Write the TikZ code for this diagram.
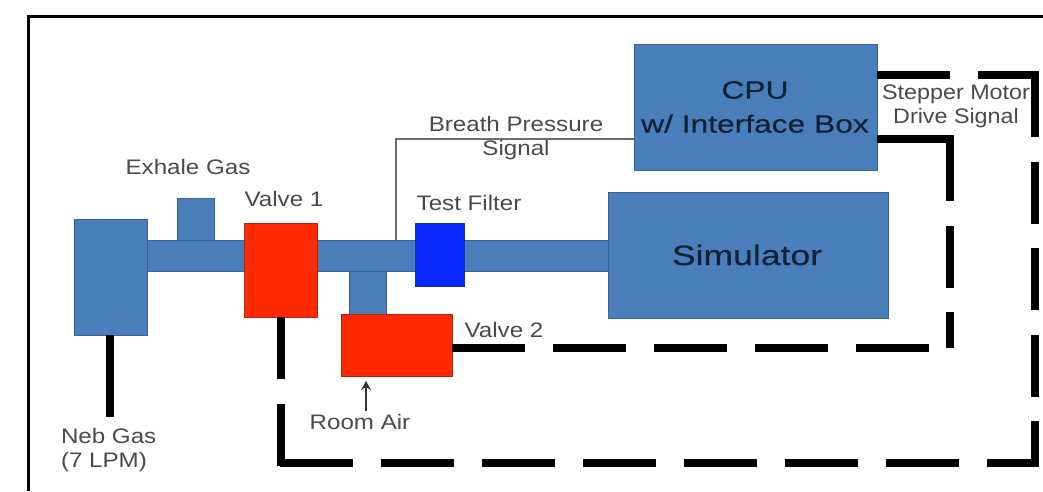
\documentclass[tikz,border=0pt]{standalone}
\usepackage{fontspec}
\setmainfont{Liberation Sans}
\newfontfamily\labfont[FakeStretch=1.15]{Liberation Sans}
\newfontfamily\stepfont[FakeStretch=1.11]{Liberation Sans}
\newfontfamily\bigfont[FakeStretch=1.27,FakeBold=0.3]{Liberation Sans}
\usetikzlibrary{arrows.meta}
\definecolor{pipeblue}{HTML}{4A7EBB}
\definecolor{pipeedge}{HTML}{3A6496}
\definecolor{valvered}{HTML}{FF2A00}
\definecolor{valveedge}{HTML}{A82A10}
\definecolor{filterblue}{HTML}{0A28FF}
\definecolor{filteredge}{HTML}{1A2F9A}
\definecolor{labelgray}{HTML}{4A4A4A}
\definecolor{boxtext}{HTML}{0F2238}
\tikzset{
  blk/.style={rectangle,inner sep=0pt,outer sep=0pt,line width=1pt},
  bluebox/.style={blk,draw=pipeedge,fill=pipeblue},
  redbox/.style={blk,draw=valveedge,fill=valvered},
  filterbox/.style={blk,draw=filteredge,fill=filterblue},
  sigline/.style={line width=8pt,draw=black},
  hdash/.style={sigline,dash pattern=on 73pt off 28pt},
  vdash/.style={sigline,dash pattern=on 62pt off 24.6pt},
  lab/.style={inner sep=0pt,outer sep=0pt,text=labelgray,font=\labfont\fontsize{21}{24}\selectfont,align=center},
  steplab/.style={lab,font=\stepfont\fontsize{21}{24}\selectfont},
  biglab/.style={inner sep=0pt,outer sep=0pt,text=boxtext,font=\bigfont\fontsize{25}{34}\selectfont,align=center},
}
\begin{document}
\begin{tikzpicture}[x=1pt,y=-1pt]
\useasboundingbox (0,0) rectangle (1043,491);
\fill[white] (0,0) rectangle (1043,491);
\coordinate (frameA) at (28,491);
\coordinate (frameB) at (28,16);
\coordinate (frameC) at (1043,16);
\draw[line width=3pt] (frameA) -- (frameB) -- (frameC);
% coordinates for free ends
\coordinate (bpPipe) at (396,240);
\coordinate (bpCpu) at (634,139);
\coordinate (nebEnd) at (110,417);
\coordinate (airTail) at (366,411);
\coordinate (airTip) at (366,381);
\coordinate (v1Down) at (281,317);
\coordinate (c1) at (281,463);
\coordinate (c2) at (1035,463);
\coordinate (c3) at (1035,75);
\coordinate (cpuTop) at (877,75);
\coordinate (cpuLow) at (877,139);
\coordinate (c4) at (950,139);
\coordinate (c5) at (950,348);
\coordinate (v2Out) at (452,348);
% breath pressure line
\draw[line width=1.6pt,draw=gray!85!black] (bpPipe) |- (bpCpu);
% pipes
\node[bluebox,minimum width=97pt,minimum height=31pt] (pipeA) at (195.5,255.5) {};
\node[bluebox,minimum width=98pt,minimum height=31pt] (pipeB) at (366,255.5) {};
\node[bluebox,minimum width=145pt,minimum height=31pt] (pipeC) at (536.5,255.5) {};
\node[bluebox,minimum width=37pt,minimum height=42pt] (exhale) at (195.5,219) {};
\node[bluebox,minimum width=37pt,minimum height=43pt] (stub) at (367.5,292.5) {};
% boxes
\node[bluebox,minimum width=73pt,minimum height=116pt] (neb) at (110.5,277) {};
\node[redbox,minimum width=73pt,minimum height=94pt] (valveA) at (280.5,270) {};
\node[redbox,minimum width=111pt,minimum height=62pt] (valveB) at (396.5,345) {};
\node[filterbox,minimum width=49pt,minimum height=63pt] (filter) at (439.5,254.5) {};
\node[bluebox,minimum width=280pt,minimum height=126pt] (sim) at (748,255) {};
\node[bluebox,minimum width=243pt,minimum height=126pt] (cpu) at (755.5,107) {};
% black signal lines
\draw[sigline] (neb.south -| nebEnd) -- (nebEnd);
\draw[vdash] (v1Down) -- ([yshift=-4pt]c1);
\draw[hdash] (c1) ++(-1,0) -- ([xshift=4pt]c2);
\draw[vdash] (c3) -- ([yshift=-4pt]c2);
\draw[hdash] (cpuTop) -- ([xshift=4pt]c3);
\draw[sigline] (cpuLow) -- ([xshift=4pt]c4);
\draw[vdash] (c4) -- (c5);
\draw[hdash] (v2Out) -- (c5);
% arrow
\draw[line width=1.6pt,draw=black!80,-{Stealth[length=9pt,width=10pt]}] (airTail) -- (airTip);
% labels
\node[biglab] (cpuText) at (755,107) {CPU\\w/ Interface Box};
\node[biglab,font=\bigfont\fontsize{28}{34}\selectfont] (simText) at (747,255) {Simulator};
\node[lab] (exhaleText) at (188,167) {Exhale Gas};
\node[lab] (valveAText) at (284,199) {Valve 1};
\node[lab] (filterText) at (469,203) {Test Filter};
\node[lab] (valveBText) at (504,330) {Valve 2};
\node[lab] (breathText) at (516,138) {Breath Pressure\\Signal};
\node[lab,align=left,anchor=west] (gasText) at (61,450) {Neb Gas\\(7 LPM)};
\node[lab] (roomText) at (360,422) {Room Air};
\node[steplab] (stepText) at (956,106) {Stepper Motor\\Drive Signal};
\end{tikzpicture}
\end{document}
